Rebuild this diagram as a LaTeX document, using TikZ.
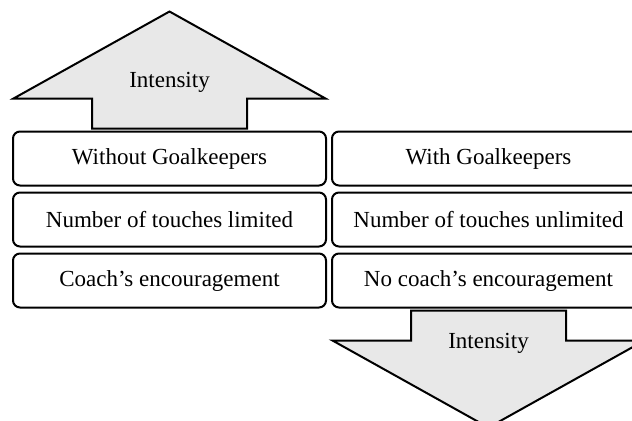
\documentclass[tikz,border=0pt]{standalone}
\usepackage{fontspec}
\setmainfont{Liberation Serif}
\usepackage{tikz}
\usetikzlibrary{positioning,calc}

\begin{document}
\begin{tikzpicture}[
  x=1pt, y=1pt,
  cell/.style={draw, line width=1pt, rounded corners=3.5pt, minimum width=156.5pt,
               minimum height=27pt, inner sep=0pt, font=\fontsize{11.5}{13}\selectfont},
  bigarrow/.style={draw, line width=1pt, fill=gray!18, line join=miter},
  lbl/.style={inner sep=0pt, anchor=base, font=\fontsize{11.5}{13}\selectfont}
]
\useasboundingbox (0,0) rectangle (316,-210);
\clip (0,0) rectangle (316,-210);

% ---------- nodes ----------
\node[cell] (noGK) at (84.75,-79.25) {Without Goalkeepers};
\node[cell, below=2.5pt of noGK] (limTouch) {Number of touches limited};
\node[cell, below=2.5pt of limTouch] (coach) {Coach’s encouragement};
\node[cell, right=2pt of noGK] (withGK) {With Goalkeepers};
\node[cell, below=2.5pt of withGK] (freeTouch) {Number of touches unlimited};
\node[cell, below=2.5pt of freeTouch] (noCoach) {No coach’s encouragement};

% ---------- intensity arrows ----------
\draw[bigarrow] ($(noGK.north)+(-38.75,1)$) -- ++(0,15) -- ++(-39.25,0) -- ++(78,43.5)
  -- ++(78,-43.5) -- ++(-39.25,0) -- ++(0,-15) -- cycle;
\node[lbl] (upInt) at ($(noGK.north)+(0,21.5)$) {Intensity};

\draw[bigarrow] ($(noCoach.south)+(-38.75,-1)$) -- ++(0,-15) -- ++(-39.25,0) -- ++(78,-43.5)
  -- ++(78,43.5) -- ++(-39.25,0) -- ++(0,15) -- cycle;
\node[lbl] (downInt) at ($(noCoach.south)+(0,-20)$) {Intensity};
\end{tikzpicture}
\end{document}
